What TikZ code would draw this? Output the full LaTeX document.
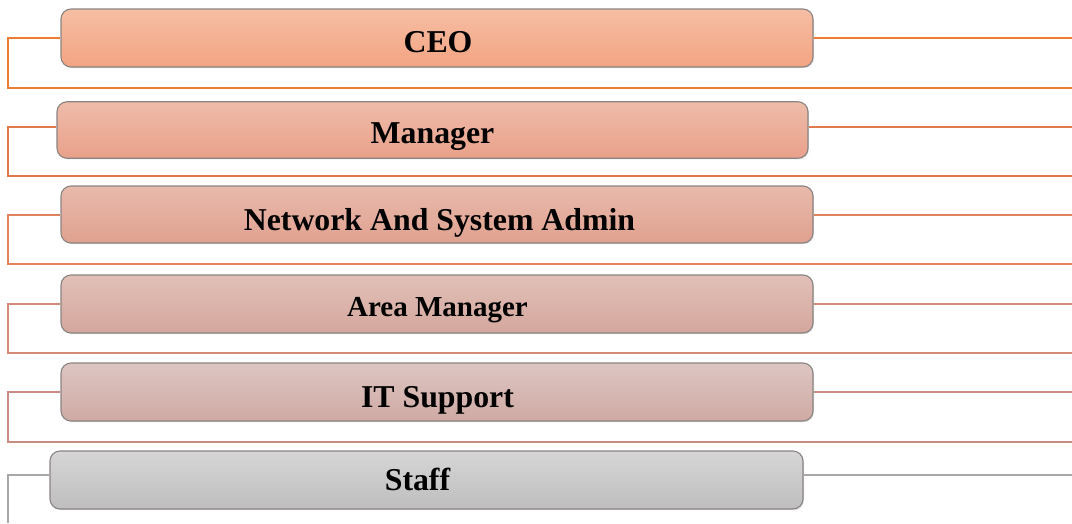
\documentclass[tikz,border=0pt]{standalone}
\usepackage{fontspec}
\setmainfont{Liberation Serif}
\usetikzlibrary{shadows}
\definecolor{cA}{HTML}{ED7D31}
\definecolor{cB}{HTML}{E07A4C}
\definecolor{cC}{HTML}{E0825E}
\definecolor{cD}{HTML}{D48A78}
\definecolor{cE}{HTML}{C98C84}
\definecolor{cF}{HTML}{A8A8A8}
\definecolor{tA}{HTML}{F6BEA4}\definecolor{uA}{HTML}{F3A482}
\definecolor{tB}{HTML}{EEBCAA}\definecolor{uB}{HTML}{E9A08A}
\definecolor{tC}{HTML}{E8BAAC}\definecolor{uC}{HTML}{E0A18F}
\definecolor{tD}{HTML}{E1C0B8}\definecolor{uD}{HTML}{D4A79D}
\definecolor{tE}{HTML}{DDC5C1}\definecolor{uE}{HTML}{CFAAA4}
\definecolor{tF}{HTML}{D6D6D6}\definecolor{uF}{HTML}{BEBEBE}
\definecolor{edgegray}{HTML}{8A8482}
\tikzset{
  rolebox/.style={draw=edgegray, line width=1.1pt, rounded corners=10pt,
    inner sep=0pt, drop shadow={shadow xshift=1pt, shadow yshift=-1.2pt, opacity=0.25}},
  conn/.style={line width=1.8pt},
  roletext/.style={font=\bfseries\fontsize{31.8}{34}\selectfont, anchor=center,
    text height=0pt, text depth=0pt, inner sep=0pt}
}
\begin{document}
\begin{tikzpicture}[x=1pt,y=-1pt]
\useasboundingbox (0,0) rectangle (1072,523);
% boxes
\node[rolebox, top color=tA, bottom color=uA, minimum width=752pt, minimum height=58pt,
  label={[roletext, yshift=-14pt, xshift=1pt]center:CEO}] (b1) at (437,38) {};
\node[rolebox, top color=tB, bottom color=uB, minimum width=751pt, minimum height=56.5pt,
  label={[roletext, yshift=-13pt]center:Manager}] (b2) at (432.5,130) {};
\node[rolebox, top color=tC, bottom color=uC, minimum width=752pt, minimum height=57pt,
  label={[roletext, yshift=-15.5pt, xshift=2.5pt]center:Network And System Admin}] (b3) at (437,214.5) {};
\node[rolebox, top color=tD, bottom color=uD, minimum width=752pt, minimum height=58pt,
  label={[roletext, font=\bfseries\fontsize{29}{32}\selectfont, yshift=-12pt, xshift=0.5pt]center:Area Manager}] (b4) at (437,304) {};
\node[rolebox, top color=tE, bottom color=uE, minimum width=752pt, minimum height=58pt,
  label={[roletext, yshift=-15pt, xshift=0.5pt]center:IT Support}] (b5) at (437,392) {};
\node[rolebox, top color=tF, bottom color=uF, minimum width=753pt, minimum height=58pt,
  label={[roletext, yshift=-10pt, xshift=-9pt]center:Staff}] (b6) at (426.5,480) {};
% connector end points
\coordinate (r1) at (1072,38);   \coordinate (l1) at (8,88);   \coordinate (e1) at (1072,88);
\coordinate (r2) at (1072,127);  \coordinate (l2) at (8,176);  \coordinate (e2) at (1072,176);
\coordinate (r3) at (1072,215);  \coordinate (l3) at (8,264);  \coordinate (e3) at (1072,264);
\coordinate (r4) at (1072,304);  \coordinate (l4) at (8,353);  \coordinate (e4) at (1072,353);
\coordinate (r5) at (1072,392);  \coordinate (l5) at (8,442);  \coordinate (e5) at (1072,442);
\coordinate (r6) at (1072,475);  \coordinate (l6) at (8,523);
% connectors
\draw[conn, cA] (b1.west |- r1) -| (l1) -- (e1);
\draw[conn, cA] (b1.east |- r1) -- (r1);
\draw[conn, cB] (b2.west |- r2) -| (l2) -- (e2);
\draw[conn, cB] (b2.east |- r2) -- (r2);
\draw[conn, cC] (b3.west |- r3) -| (l3) -- (e3);
\draw[conn, cC] (b3.east |- r3) -- (r3);
\draw[conn, cD] (b4.west |- r4) -| (l4) -- (e4);
\draw[conn, cD] (b4.east |- r4) -- (r4);
\draw[conn, cE] (b5.west |- r5) -| (l5) -- (e5);
\draw[conn, cE] (b5.east |- r5) -- (r5);
\draw[conn, cF] (b6.west |- r6) -| (l6);
\draw[conn, cF] (b6.east |- r6) -- (r6);
\end{tikzpicture}
\end{document}
